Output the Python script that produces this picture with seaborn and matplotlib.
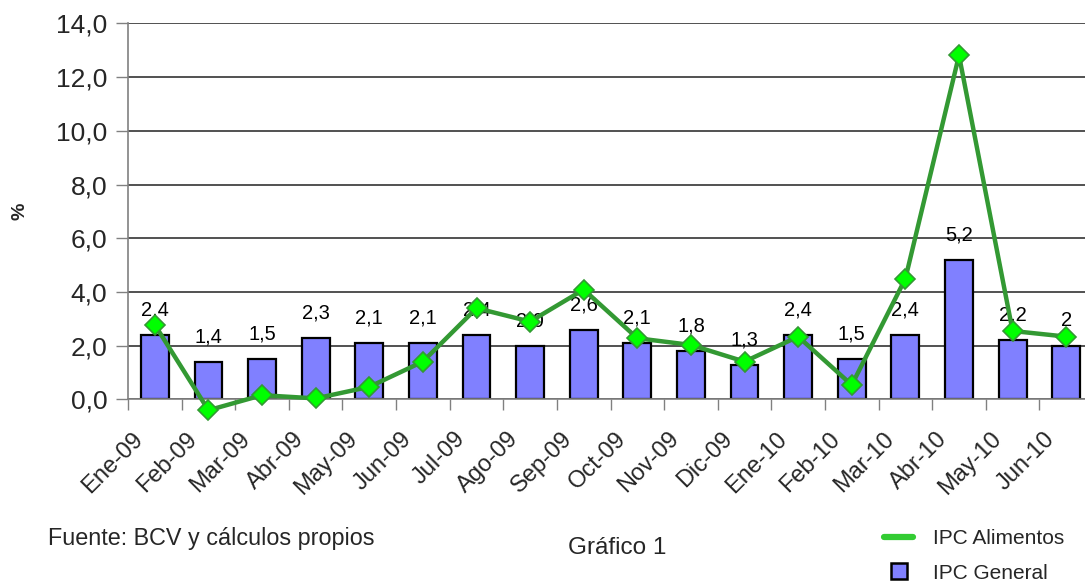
import numpy as np
import matplotlib
matplotlib.use("Agg")
import matplotlib.pyplot as plt
import matplotlib.transforms as mtransforms
from matplotlib.lines import Line2D
import seaborn as sns

# ---------------------------------------------------------------- data
months = ["Ene-09", "Feb-09", "Mar-09", "Abr-09", "May-09", "Jun-09",
          "Jul-09", "Ago-09", "Sep-09", "Oct-09", "Nov-09", "Dic-09",
          "Ene-10", "Feb-10", "Mar-10", "Abr-10", "May-10", "Jun-10"]
ipc_general = [2.4, 1.4, 1.5, 2.3, 2.1, 2.1, 2.4, 2.0, 2.6,
               2.1, 1.8, 1.3, 2.4, 1.5, 2.4, 5.2, 2.2, 2.0]
general_labels = ["2,4", "1,4", "1,5", "2,3", "2,1", "2,1", "2,4", "2,0", "2,6",
                  "2,1", "1,8", "1,3", "2,4", "1,5", "2,4", "5,2", "2,2", "2"]
ipc_alimentos = [2.78, -0.40, 0.16, 0.04, 0.47, 1.41, 3.40, 2.90, 4.09,
                 2.28, 2.03, 1.41, 2.34, 0.54, 4.50, 12.81, 2.55, 2.34]
yticks = [0, 2, 4, 6, 8, 10, 12, 14]

sns.set_theme(style="white")
plt.rcParams["font.family"] = ["Liberation Sans", "DejaVu Sans"]

BAR = "#8080ff"
LINE = "#339933"
MARK = "#00ff00"

fig = plt.figure(figsize=(10.85, 5.82), dpi=100)
ax = fig.add_axes([0.118, 0.3136, 0.8894, 0.6462])

sns.barplot(x=months, y=ipc_general, color=BAR, width=0.52, saturation=1,
            edgecolor="black", linewidth=1.6, ax=ax, zorder=2)

# data labels over the bars
for i, (v, lab) in enumerate(zip(ipc_general, general_labels)):
    ax.annotate(lab, (i, v), xytext=(0, 18), textcoords="offset points",
                ha="center", va="center", fontsize=14.5, color="black",
                zorder=2.5)

sns.pointplot(x=months, y=ipc_alimentos, color=LINE, markers="D",
              linewidth=3.2, markersize=10.5, markerfacecolor=MARK,
              markeredgecolor=LINE, markeredgewidth=1.2, ax=ax)
for ln in ax.lines:
    ln.set_clip_on(False)
    ln.set_zorder(3)

ax.set_xlim(-0.5, len(months) - 0.5)
ax.set_ylim(0, 14)
ax.set_yticks(yticks)
ax.set_yticklabels([f"{t:.1f}".replace(".", ",") for t in yticks], fontsize=19)
ax.yaxis.grid(True, color="#222222", linewidth=1.1)
ax.set_axisbelow(True)

ax.set_xticks(range(len(months)))
ax.set_xticks(np.arange(-0.5, len(months), 1), minor=True)
ax.tick_params(axis="x", which="major", length=0, pad=26)
ax.tick_params(axis="x", which="minor", length=8, width=1, color="#808080",
               direction="out", bottom=True)
ax.tick_params(axis="y", length=9, width=1, color="#808080", direction="out",
               left=True, pad=6)
ax.set_xticklabels(months, rotation=45, ha="right", va="center",
                   rotation_mode="anchor", fontsize=17)
# labels sit a little left of the category centre, as in the original
shift = mtransforms.ScaledTranslation(-15 / 100, 0, fig.dpi_scale_trans)
for lab in ax.get_xticklabels():
    lab.set_transform(lab.get_transform() + shift)

for s in ["top", "right"]:
    ax.spines[s].set_visible(False)
for s in ["left", "bottom"]:
    ax.spines[s].set_color("#808080")
    ax.spines[s].set_linewidth(1.2)

ax.set_xlabel("")
ax.set_ylabel("%", fontsize=14, fontweight="bold", labelpad=20)

fig.text(48 / 1085, 1 - 538 / 582, "Fuente: BCV y cálculos propios",
         fontsize=16.8, ha="left", va="center")
fig.text(617 / 1085, 1 - 548 / 582, "Gráfico 1", fontsize=17.5,
         ha="center", va="center")

handles = [Line2D([], [], color="#33cc33", linewidth=4.5),
           Line2D([], [], color="none", marker="s", markersize=11,
                  markerfacecolor=BAR, markeredgecolor="black",
                  markeredgewidth=1.8)]
fig.legend(handles, ["IPC Alimentos", "IPC General"], loc="upper left",
           bbox_to_anchor=(884 / 1085, 1 - 529 / 582), frameon=False,
           fontsize=15, handlelength=1.4, handletextpad=0.95,
           labelspacing=0.75, borderpad=0, borderaxespad=0)

fig.savefig("out.png", dpi=100)
